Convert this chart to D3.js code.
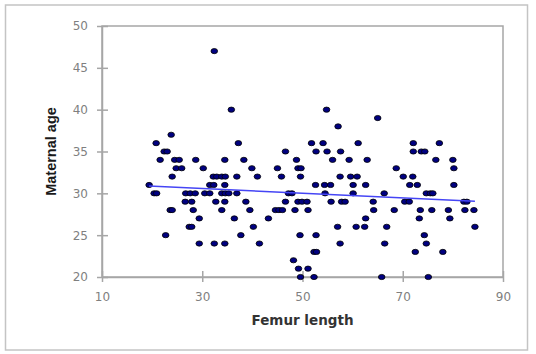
<!DOCTYPE html>
<html lang="en">
<head>
<meta charset="utf-8">
<title>Femur length vs maternal age</title>
<style>
  body { margin: 0; background: #fff; }
  svg { display: block; }
</style>
</head>
<body>
<script src="https://d3js.org/d3.v7.min.js"></script>
<script>

    // femur length (x) and maternal age (y)
    var femur = [
        32.4,
        35.8, 54.8,
        65.0,
        57.1,
        23.8,
        20.8, 37.2, 51.8, 54.1, 61.1, 72.1, 77.3,
        22.4, 23.0, 46.6, 52.7, 54.9, 57.6, 72.1, 73.7, 74.4,
        21.6, 24.5, 25.4, 28.7, 34.5, 38.3, 48.8, 56.0, 59.3, 62.9, 76.6, 80.0,
        24.8, 25.9, 30.2, 39.9, 45.0, 49.1, 49.7, 68.7, 80.2,
        24.0, 32.2, 32.9, 33.9, 34.6, 36.9, 41.0, 45.8, 49.6, 57.5, 59.6, 60.9, 70.1, 72.0,
        19.4, 31.5, 32.3, 34.5, 52.6, 54.4, 55.6, 60.1, 62.6, 71.4, 72.9, 80.2,
        20.4, 20.9, 26.7, 27.6, 28.6, 30.5, 31.5, 33.9, 34.6, 35.3, 36.9, 47.2, 47.9, 54.5, 60.1, 66.3, 74.7, 75.5, 76.0,
        26.6, 27.9, 32.7, 34.5, 38.7, 46.6, 49.1, 49.9, 50.9, 55.7, 57.8, 58.5, 64.1, 70.4, 71.3, 82.2, 82.8,
        23.6, 24.0, 28.2, 33.9, 39.5, 44.6, 45.3, 46.0, 48.5, 51.1, 64.2, 68.3, 73.5, 75.8, 79.1, 82.4, 84.2,
        29.4, 36.4, 43.2, 62.6, 73.3, 79.4,
        27.4, 27.9, 40.2, 57.0, 60.7, 62.4, 66.8, 84.4,
        22.7, 37.7, 49.5, 52.7, 74.3,
        29.4, 32.4, 34.5, 41.4, 57.5, 66.4, 74.7,
        52.3, 52.8, 72.5, 78.0,
        48.2,
        49.2, 51.1,
        49.6, 52.3, 65.8, 75.1
    ];
    var age = [
        47,
        40, 40,
        39,
        38,
        37,
        36, 36, 36, 36, 36, 36, 36,
        35, 35, 35, 35, 35, 35, 35, 35, 35,
        34, 34, 34, 34, 34, 34, 34, 34, 34, 34, 34, 34,
        33, 33, 33, 33, 33, 33, 33, 33, 33,
        32, 32, 32, 32, 32, 32, 32, 32, 32, 32, 32, 32, 32, 32,
        31, 31, 31, 31, 31, 31, 31, 31, 31, 31, 31, 31,
        30, 30, 30, 30, 30, 30, 30, 30, 30, 30, 30, 30, 30, 30, 30, 30, 30, 30, 30,
        29, 29, 29, 29, 29, 29, 29, 29, 29, 29, 29, 29, 29, 29, 29, 29, 29,
        28, 28, 28, 28, 28, 28, 28, 28, 28, 28, 28, 28, 28, 28, 28, 28, 28,
        27, 27, 27, 27, 27, 27,
        26, 26, 26, 26, 26, 26, 26, 26,
        25, 25, 25, 25, 25,
        24, 24, 24, 24, 24, 24, 24,
        23, 23, 23, 23,
        22,
        21, 21,
        20, 20, 20, 20
    ];
    var xTicks = [10, 30, 50, 70, 90];
    var yTicks = [20, 25, 30, 35, 40, 45, 50];

    var W = 536, H = 354;
    var margin = {top: 26, right: 33, bottom: 77, left: 102};

    var svg = d3.select("body").append("svg")
        .attr("width", W)
        .attr("height", H);

    // outer chart frame
    svg.append("rect")
        .attr("x", 5.5).attr("y", 5)
        .attr("width", 522).attr("height", 345)
        .attr("fill", "#fff")
        .attr("stroke", "#c4c4c4")
        .attr("stroke-width", 1.5);

    var xScale = d3.scaleLinear()
        .domain([10, 90])
        .range([margin.left, W - margin.right]);
    var yScale = d3.scaleLinear()
        .domain([20, 50])
        .range([H - margin.bottom, margin.top]);

    // plot area border
    svg.append("rect")
        .attr("x", xScale(10)).attr("y", yScale(50))
        .attr("width", xScale(90) - xScale(10))
        .attr("height", yScale(20) - yScale(50))
        .attr("fill", "none")
        .attr("stroke", "#a6a6a6")
        .attr("stroke-width", 1.5);

    var yAxis = d3.axisLeft(yScale)
        .tickValues(yTicks)
        .tickSize(5)
        .tickSizeOuter(0)
        .tickPadding(9);
    var yAxisGroup = svg.append("g")
        .attr("transform", "translate(" + xScale(10) + ",0)")
        .call(yAxis);

    var xAxis = d3.axisBottom(xScale)
        .tickValues(xTicks)
        .tickSize(5)
        .tickSizeOuter(0)
        .tickPadding(10);
    var xAxisGroup = svg.append("g")
        .attr("transform", "translate(0," + yScale(20) + ")")
        .call(xAxis);

    // ticks cross the axis line
    yAxisGroup.selectAll(".tick line").attr("x1", 6);
    xAxisGroup.selectAll(".tick line").attr("y1", -6);

    [yAxisGroup, xAxisGroup].forEach(function(g){
        g.select(".domain").attr("stroke", "#a6a6a6").attr("stroke-width", 1.5);
        g.selectAll(".tick line").attr("stroke", "#a6a6a6").attr("stroke-width", 1.5);
        g.selectAll(".tick text")
            .attr("fill", "#7f7f7f")
            .style("font-family", "DejaVu Sans, sans-serif")
            .style("font-size", "12px");
    });

    // points
    var points = d3.range(femur.length).map(function(i){ return {x: femur[i], y: age[i]}; });
    svg.append("g").selectAll("ellipse")
        .data(points)
        .enter()
        .append("ellipse")
        .attr("cx", function(d){ return xScale(d.x); })
        .attr("cy", function(d){ return yScale(d.y); })
        .attr("rx", 3.3)
        .attr("ry", 2.6)
        .attr("fill", "#000080")
        .attr("stroke", "#000")
        .attr("stroke-width", 0.8);

    // least squares trend line
    var mx = d3.mean(femur), my = d3.mean(age);
    var sxy = d3.sum(points, function(d){ return (d.x - mx) * (d.y - my); });
    var sxx = d3.sum(points, function(d){ return (d.x - mx) * (d.x - mx); });
    var slope = sxy / sxx, icept = my - slope * mx;
    var xExt = d3.extent(femur);

    svg.append("line")
        .attr("x1", xScale(xExt[0])).attr("y1", yScale(icept + slope * xExt[0]))
        .attr("x2", xScale(xExt[1])).attr("y2", yScale(icept + slope * xExt[1]))
        .attr("stroke", "#4545f5")
        .attr("stroke-width", 1.6);

    // axis titles
    svg.append("text")
        .attr("x", (xScale(10) + xScale(90)) / 2)
        .attr("y", 325)
        .attr("text-anchor", "middle")
        .attr("fill", "#333")
        .style("font-family", "DejaVu Sans, sans-serif")
        .style("font-size", "13.5px")
        .style("font-weight", "bold")
        .text("Femur length");

    svg.append("text")
        .attr("transform", "translate(56," + ((yScale(20) + yScale(50)) / 2) + ") rotate(-90)")
        .attr("text-anchor", "middle")
        .attr("fill", "#1a1a1a")
        .style("font-family", "Liberation Sans, sans-serif")
        .style("font-size", "14.5px")
        .style("font-weight", "bold")
        .text("Maternal age");

</script>
</body>
</html>
